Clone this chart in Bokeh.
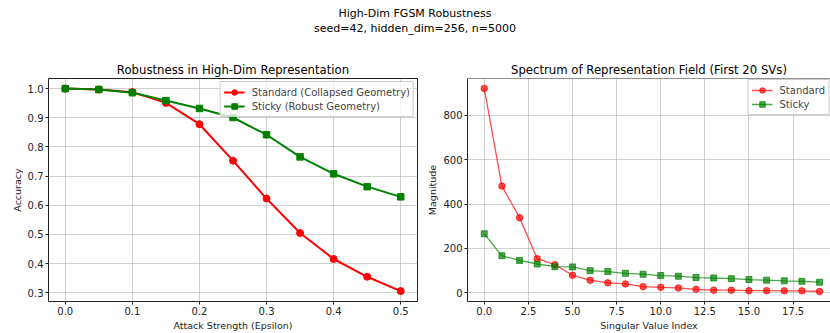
from bokeh.plotting import figure
from bokeh.layouts import column, row
from bokeh.models import Div, Range1d, FixedTicker, PrintfTickFormatter, Span
from bokeh.embed import file_html
from bokeh.resources import INLINE

FONT = "DejaVu Sans"

# Accuracy under FGSM attack
epsilons = [0.0, 0.05, 0.1, 0.15, 0.2, 0.25, 0.3, 0.35, 0.4, 0.45, 0.5]
acc_standard = [1.0, 0.997, 0.988, 0.951, 0.878, 0.753, 0.623, 0.505, 0.416, 0.355, 0.306]
acc_sticky = [1.0, 0.997, 0.986, 0.959, 0.932, 0.901, 0.842, 0.766, 0.708, 0.664, 0.629]

# First 20 singular values of the representation field
sv_index = list(range(20))
sv_standard = [921, 481, 339, 154, 127, 79, 57, 45, 40, 28, 25, 22, 16, 12, 12, 10, 10, 9, 9, 6]
sv_sticky = [266, 167, 146, 130, 118, 117, 100, 96, 88, 84, 78, 75, 69, 67, 64, 60, 57, 54, 52, 48]

eps_ticks = [0.0, 0.1, 0.2, 0.3, 0.4, 0.5]
acc_ticks = [0.3, 0.4, 0.5, 0.6, 0.7, 0.8, 0.9, 1.0]
idx_ticks = [0.0, 2.5, 5.0, 7.5, 10.0, 12.5, 15.0, 17.5]
mag_ticks = [0, 200, 400, 600, 800]

SPINE = "#222222"


def style(p, title):
    p.title.text = title
    p.title.text_font = FONT
    p.title.text_font_size = "11.7px"
    p.title.text_font_style = "normal"
    p.title.align = "center"
    p.title.text_color = "#000000"
    p.title.standoff = 3
    p.outline_line_color = SPINE
    p.outline_line_width = 1
    for ax in (p.xaxis[0], p.yaxis[0]):
        ax.axis_line_color = None
        ax.major_tick_line_color = SPINE
        ax.major_tick_out = 3
        ax.major_tick_in = 0
        ax.minor_tick_line_color = None
        ax.major_label_standoff = 2
        ax.major_label_text_font = FONT
        ax.major_label_text_font_size = "10px"
        ax.major_label_text_color = SPINE
        ax.axis_label_text_font = FONT
        ax.axis_label_text_font_size = "9.5px"
        ax.axis_label_text_font_style = "normal"
        ax.axis_label_text_color = SPINE
        ax.axis_label_standoff = 2
    p.grid.grid_line_color = "#b0b0b0"
    p.grid.grid_line_alpha = 0.6
    p.grid.grid_line_width = 1
    p.background_fill_color = "white"
    p.border_fill_color = "white"


def style_legend(p, margin):
    lg = p.legend[0]
    lg.location = "top_right"
    lg.label_text_font = FONT
    lg.label_text_font_size = "10px"
    lg.label_height = 14
    lg.glyph_height = 14
    lg.glyph_width = 21
    lg.label_standoff = 7
    lg.spacing = 0
    lg.padding = 3
    lg.margin = margin
    lg.border_line_color = "#cccccc"
    lg.border_line_alpha = 1
    lg.background_fill_alpha = 0.8


p1 = figure(width=422, height=285, output_backend="svg", toolbar_location=None,
            x_range=Range1d(-0.025, 0.525), y_range=Range1d(0.2703, 1.0347),
            min_border_left=48, min_border_right=5, min_border_top=30, min_border_bottom=31)
style(p1, "Robustness in High-Dim Representation")
p1.xaxis.axis_label = "Attack Strength (Epsilon)"
p1.yaxis.axis_label = "Accuracy"
p1.xaxis.ticker = FixedTicker(ticks=eps_ticks)
p1.yaxis.ticker = FixedTicker(ticks=acc_ticks)
p1.xaxis.formatter = PrintfTickFormatter(format="%.1f")
p1.yaxis.formatter = PrintfTickFormatter(format="%.1f")

lab_s1 = "Standard (Collapsed Geometry)"
lab_k1 = "Sticky (Robust Geometry)"
p1.line(epsilons, acc_standard, color="#ff0000", line_width=2, legend_label=lab_s1)
p1.scatter(epsilons, acc_standard, marker="circle", size=7, color="#ff0000", legend_label=lab_s1)
p1.line(epsilons, acc_sticky, color="#008000", line_width=2, legend_label=lab_k1)
p1.scatter(epsilons, acc_sticky, marker="square", size=6.5, color="#008000", legend_label=lab_k1)
style_legend(p1, 3)

# The spectrum panel runs to the right edge of the page, so its right spine is not drawn
p2 = figure(width=408, height=285, output_backend="svg", toolbar_location=None,
            x_range=Range1d(-0.95, 19.62), y_range=Range1d(-39, 966),
            min_border_left=45, min_border_right=0, min_border_top=30, min_border_bottom=31)
style(p2, "Spectrum of Representation Field (First 20 SVs)")
p2.outline_line_color = None
p2.xaxis.axis_line_color = SPINE
p2.yaxis.axis_line_color = SPINE
p2.add_layout(Span(location=966, dimension="width", line_color=SPINE, line_width=1))
p2.xaxis.axis_label = "Singular Value Index"
p2.yaxis.axis_label = "Magnitude"
p2.xaxis.ticker = FixedTicker(ticks=idx_ticks)
p2.yaxis.ticker = FixedTicker(ticks=mag_ticks)
p2.xaxis.formatter = PrintfTickFormatter(format="%.1f")
p2.yaxis.formatter = PrintfTickFormatter(format="%d")

p2.line(sv_index, sv_standard, color="#ff0000", alpha=0.7, line_width=1.3, legend_label="Standard")
p2.scatter(sv_index, sv_standard, marker="circle", size=6.5, color="#ff0000", alpha=0.7, legend_label="Standard")
p2.line(sv_index, sv_sticky, color="#008000", alpha=0.7, line_width=1.3, legend_label="Sticky")
p2.scatter(sv_index, sv_sticky, marker="square", size=6, color="#008000", alpha=0.7, legend_label="Sticky")
style_legend(p2, 1)

header = Div(text="High-Dim FGSM Robustness<br>seed=42, hidden_dim=256, n=5000",
             width=830, height=48, margin=(0, 0, 0, 0),
             styles={"text-align": "center", "font-family": FONT, "font-size": "11px",
                     "line-height": "15px", "padding-top": "6px", "color": "#000000",
                     "width": "830px"})

layout = column(header, row(p1, p2, spacing=0), spacing=0)

open("out.html", "w").write(file_html(layout, INLINE))
